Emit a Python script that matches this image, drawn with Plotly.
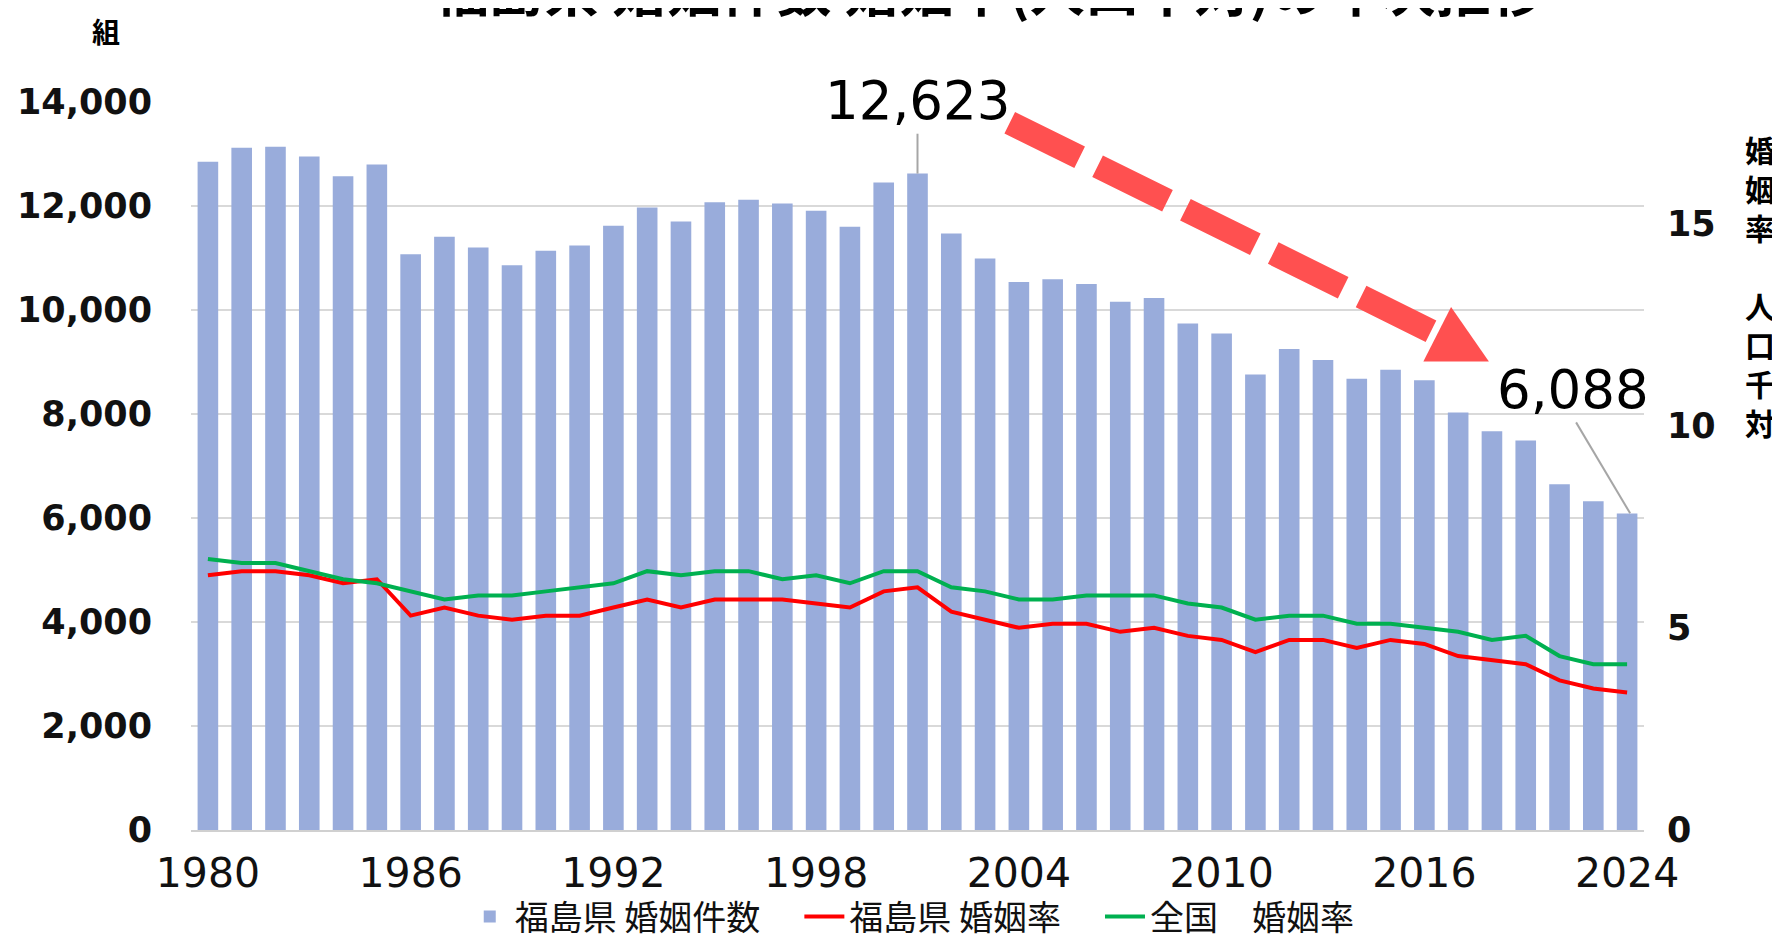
import plotly.graph_objects as go

# 年次データ(1980年から)
years = list(range(1980, 2023))
marriages = [12850, 13120, 13140, 12950, 12570, 12800, 11070, 11410, 11200, 10860,
             11140, 11240, 11620, 11970, 11700, 12070, 12120, 12050, 11910, 11600,
             12450, 12623, 11470, 10990, 10540, 10590, 10500, 10160, 10230, 9740,
             9550, 8760, 9250, 9040, 8680, 8850, 8650, 8030, 7670, 7490,
             6650, 6320, 6088]
rate_fukushima = [6.3, 6.4, 6.4, 6.3, 6.1, 6.2, 5.3, 5.5, 5.3, 5.2,
                  5.3, 5.3, 5.5, 5.7, 5.5, 5.7, 5.7, 5.7, 5.6, 5.5,
                  5.9, 6.0, 5.4, 5.2, 5.0, 5.1, 5.1, 4.9, 5.0, 4.8,
                  4.7, 4.4, 4.7, 4.7, 4.5, 4.7, 4.6, 4.3, 4.2, 4.1,
                  3.7, 3.5, 3.4]
rate_japan = [6.7, 6.6, 6.6, 6.4, 6.2, 6.1, 5.9, 5.7, 5.8, 5.8,
              5.9, 6.0, 6.1, 6.4, 6.3, 6.4, 6.4, 6.2, 6.3, 6.1,
              6.4, 6.4, 6.0, 5.9, 5.7, 5.7, 5.8, 5.8, 5.8, 5.6,
              5.5, 5.2, 5.3, 5.3, 5.1, 5.1, 5.0, 4.9, 4.7, 4.8,
              4.3, 4.1, 4.1]
tick_years = [1980, 1986, 1992, 1998, 2004, 2010, 2016, 2022]
tick_labels = ["1980", "1986", "1992", "1998", "2004", "2010", "2016", "2024"]

JP = "Noto Sans CJK JP"
NUM = "DejaVu Sans"

fig = go.Figure()
fig.add_trace(go.Bar(x=years, y=marriages, name="福島県 婚姻件数\u3000",
                     marker=dict(color="#99acdb", line_width=0)))
fig.add_trace(go.Scatter(x=years, y=rate_fukushima, name="福島県 婚姻率\u3000", yaxis="y2",
                         mode="lines", line=dict(color="#ff0000", width=4)))
fig.add_trace(go.Scatter(x=years, y=rate_japan, name="全国　婚姻率", yaxis="y2",
                         mode="lines", line=dict(color="#00b050", width=4)))

# ページ本体の余白(8px)を差し引いたマージン
fig.update_layout(
    width=1780, height=934,
    margin=dict(l=183, r=144, t=94, b=112, autoexpand=False),
    plot_bgcolor="white", paper_bgcolor="white",
    bargap=0.39,
    showlegend=True,
    legend=dict(orientation="h", x=0.508, xanchor="center", y=0.027, yanchor="middle",
                yref="container", xref="container",
                font=dict(family=JP, size=34, color="#111"), itemwidth=40),
    xaxis=dict(range=[1979.5, 2022.5], tickvals=tick_years, ticktext=tick_labels,
               tickfont=dict(family=NUM, size=41, color="#111"), ticks="",
               showgrid=False, showline=True, linecolor="#d0d0d0", linewidth=2,
               ticklabelstandoff=6, automargin=False),
    yaxis=dict(range=[0, 14000], dtick=2000, tickformat=",d",
               tickfont=dict(family=NUM, size=35, color="#111", weight="bold"),
               gridcolor="#d9d9d9", gridwidth=1.5, zeroline=False,
               ticklabelstandoff=38, automargin=False),
    yaxis2=dict(range=[0, 18], dtick=5, overlaying="y", side="right",
                tickfont=dict(family=NUM, size=35, color="#111", weight="bold"),
                showgrid=False, zeroline=False, ticklabelstandoff=22, automargin=False),
)

# 強調ラベルと引出線
fig.add_annotation(x=2001, y=1.0027, xref="x", yref="paper", text="12,623", showarrow=False,
                   xanchor="center", yanchor="middle",
                   font=dict(family=NUM, size=53, color="#000"))
fig.add_shape(type="line", xref="x", yref="y", x0=2001, x1=2001, y0=12623, y1=13390,
              line=dict(color="#a6a6a6", width=2))
fig.add_annotation(x=2020.4, y=8473, xref="x", yref="y", text="6,088", showarrow=False,
                   xanchor="center", yanchor="middle",
                   font=dict(family=NUM, size=53, color="#000"))
fig.add_shape(type="line", xref="x", yref="y", x0=2020.49, y0=7839, x1=2022.09, y1=6090,
              line=dict(color="#a6a6a6", width=2))

# 減少を示す赤い破線矢印
fig.add_shape(type="line", xref="x", yref="y", x0=2003.73, y0=13602, x1=2016.38, y1=9534,
              line=dict(color="#ff5050", width=24, dash="78px,20px"))
fig.add_shape(type="path", xref="x", yref="y",
              path="M 2016.79,10058 L 2017.91,9011 L 2015.97,9011 Z",
              fillcolor="#ff5050", line_width=0)

# タイトル(上端で切れている)と軸タイトル
fig.add_annotation(x=0.55, y=1.158, xref="paper", yref="paper",
                   xanchor="center", yanchor="middle",
                   text="<b>福島県 婚姻件数 婚姻率(人口千対)の年次推移</b>", showarrow=False,
                   font=dict(family=JP, size=55, color="#000"))
fig.add_annotation(x=-0.0585, y=1.0975, xref="paper", yref="paper",
                   xanchor="center", yanchor="middle",
                   text="<b>組</b>", showarrow=False,
                   font=dict(family=JP, size=28, color="#000"))
fig.add_annotation(x=1.08, y=0.748, xref="paper", yref="paper",
                   xanchor="center", yanchor="middle",
                   text="<b>婚<br>姻<br>率<br> <br>人<br>口<br>千<br>対</b>", showarrow=False,
                   font=dict(family=JP, size=30, color="#000"))

fig.write_html("out.html")
